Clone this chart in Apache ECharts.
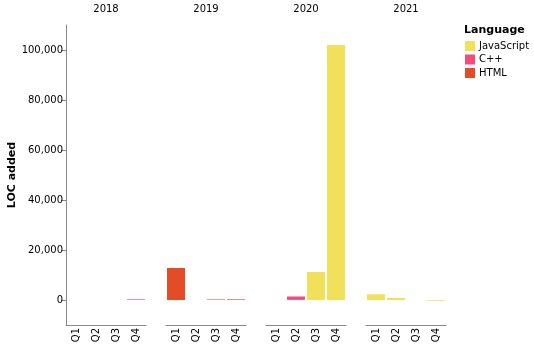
<!DOCTYPE html>
<html>
<head>
<meta charset="utf-8">
<script src="https://cdn.jsdelivr.net/npm/echarts@6/dist/echarts.min.js"></script>
<style>
  html, body { margin: 0; padding: 0; background: #fff; }
  #chart { width: 534px; height: 351px; }
</style>
</head>
<body>
<div id="chart"></div>
<script>
// facets and categories
const years = ['2018', '2019', '2020', '2021'];
const quarters = ['Q1', 'Q2', 'Q3', 'Q4'];
const languages = ['JavaScript', 'C++', 'HTML'];
const langColors = { 'JavaScript': '#f1e05a', 'C++': '#f34b7d', 'HTML': '#e34c26' };
const yTicks = [0, 20000, 40000, 60000, 80000, 100000];

// LOC added per year, per quarter
const jsAdded = [[0, 0, 0, 0], [0, 0, 0, 0], [0, 0, 11200, 102000], [2300, 800, 0, -300]];
const cppAdded = [[0, 0, 0, 250], [0, 0, 0, 0], [0, 1100, 0, 0], [0, 0, 0, 0]];
const htmlAdded = [[0, 0, 0, 0], [12800, 0, 200, 250], [0, 300, 0, 0], [0, 0, 0, 0]];

const font = 'DejaVu Sans, sans-serif';
const chart = echarts.init(document.getElementById('chart'));

const grids = [], xAxes = [], yAxes = [], series = [];
const perLang = { 'HTML': htmlAdded, 'C++': cppAdded, 'JavaScript': jsAdded };
years.forEach((yr, i) => {
  grids.push({ left: 66 + 100 * i, top: 25, width: 80, height: 300 });
  xAxes.push({
    type: 'category', gridIndex: i, data: quarters,
    axisLine: { lineStyle: { color: '#888' }, onZero: false },
    axisTick: { alignWithLabel: true, length: 5, lineStyle: { color: '#888' } },
    axisLabel: { rotate: 90, fontSize: 10, color: '#000', fontFamily: font, margin: 3 }
  });
  yAxes.push({
    type: 'value', gridIndex: i, min: -10000, max: 110000,
    show: i === 0,
    splitLine: { show: false },
    axisLine: { show: true, lineStyle: { color: '#888' } },
    axisTick: { show: true, length: 5, lineStyle: { color: '#888' }, customValues: yTicks },
    axisLabel: {
      fontSize: 10, color: '#000', fontFamily: font, margin: 3,
      customValues: yTicks,
      formatter: v => v.toLocaleString('en-US')
    }
  });
  // stack bottom to top: HTML, C++, JavaScript
  ['HTML', 'C++', 'JavaScript'].forEach(lang => {
    series.push({
      name: lang, type: 'bar', xAxisIndex: i, yAxisIndex: i,
      stack: 'loc' + i, barWidth: 18,
      itemStyle: { color: langColors[lang], borderWidth: 0 },
      data: perLang[lang][i].map(v => (v === 0 ? '-' : v))
    });
  });
});

chart.setOption({
  animation: false,
  grid: grids,
  xAxis: xAxes,
  yAxis: yAxes,
  series: series,
  legend: {
    data: languages, orient: 'vertical', left: 465, top: 41,
    itemWidth: 10, itemHeight: 10, itemGap: 3.5, padding: 0, icon: 'rect',
    textStyle: { fontSize: 10, fontFamily: font, color: '#000', padding: [0, 0, 0, -1] }
  },
  graphic: years.map((yr, i) => ({
    type: 'text', x: 106 + 100 * i, y: 9,
    style: { text: yr, fontSize: 10, fontFamily: font, fill: '#000', align: 'center', verticalAlign: 'middle' }
  })).concat([
    {
      type: 'text', x: 464, y: 30,
      style: { text: 'Language', fontSize: 11, fontWeight: 'bold', fontFamily: font, fill: '#000', align: 'left', verticalAlign: 'middle' }
    },
    {
      type: 'text', x: 12, y: 175, rotation: Math.PI / 2,
      style: { text: 'LOC added', fontSize: 11, fontWeight: 'bold', fontFamily: font, fill: '#000', align: 'center', verticalAlign: 'middle' }
    }
  ])
});
</script>
</body>
</html>
